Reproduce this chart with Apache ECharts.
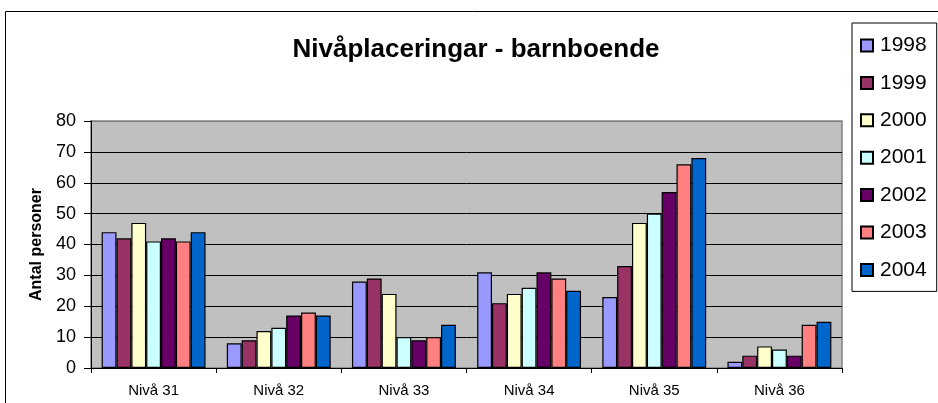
<!DOCTYPE html>
<html>
<head>
<meta charset="utf-8">
<script src="https://cdn.jsdelivr.net/npm/echarts@6/dist/echarts.min.js"></script>
<style>
html,body{margin:0;padding:0;background:#fff;}
#c{width:938px;height:403px;}
</style>
</head>
<body>
<div id="c"></div>
<script>
const categories = ['Nivå 31','Nivå 32','Nivå 33','Nivå 34','Nivå 35','Nivå 36'];
const years = ['1998','1999','2000','2001','2002','2003','2004'];
const colors = ['#9999FF','#993366','#FFFFCC','#CCFFFF','#660066','#FF8080','#0066CC'];
const v1998 = [44, 8, 28, 31, 23, 2];
const v1999 = [42, 9, 29, 21, 33, 4];
const v2000 = [47, 12, 24, 24, 47, 7];
const v2001 = [41, 13, 10, 26, 50, 6];
const v2002 = [42, 17, 9, 31, 57, 4];
const v2003 = [41, 18, 10, 29, 66, 14];
const v2004 = [44, 17, 14, 25, 68, 15];
const seriesValues = [v1998, v1999, v2000, v2001, v2002, v2003, v2004];
const yTicks = { min: 0, max: 80, interval: 10 };

const chart = echarts.init(document.getElementById('c'), null, {renderer: 'canvas'});
const font = '"Liberation Sans", Arial, sans-serif';

chart.setOption({
  animation: false,
  textStyle: { fontFamily: font },
  graphic: [{
    type: 'rect', z: -10, silent: true,
    shape: { x: 5.5, y: 11.5, width: 945, height: 420 },
    style: { fill: '#fff', stroke: '#000', lineWidth: 1 }
  }],
  title: {
    text: 'Nivåplaceringar - barnboende',
    left: 471, top: 32, textAlign: 'center',
    textStyle: { fontFamily: font, fontSize: 26, fontWeight: 'bold', color: '#000' }
  },
  legend: {
    orient: 'vertical',
    left: 852, top: 23,
    padding: [12, 10, 11, 8],
    itemGap: 16.4,
    itemWidth: 12, itemHeight: 12,
    icon: 'rect',
    borderColor: '#000', borderWidth: 1,
    backgroundColor: '#fff',
    textStyle: { fontFamily: font, fontSize: 21, color: '#000', padding: [0,0,0,2] },
    data: years
  },
  grid: {
    left: 91, right: 96, top: 121, bottom: 35,
    show: true, backgroundColor: '#C0C0C0', borderColor: '#808080', borderWidth: 1.5
  },
  xAxis: {
    type: 'category',
    data: categories,
    axisLine: { lineStyle: { color: '#000', width: 1 } },
    axisTick: { show: true, length: 5, alignWithLabel: false, lineStyle: { color: '#000' } },
    axisLabel: { fontFamily: font, fontSize: 15, color: '#000', margin: 15 },
    splitLine: { show: false }
  },
  yAxis: {
    type: 'value',
    min: yTicks.min, max: yTicks.max, interval: yTicks.interval,
    name: 'Antal personer',
    nameLocation: 'middle',
    nameGap: 43,
    nameTextStyle: { fontFamily: font, fontSize: 16, fontWeight: 'bold', color: '#000' },
    axisLine: { show: true, lineStyle: { color: '#000', width: 1 } },
    axisTick: { show: true, length: 7, lineStyle: { color: '#000' } },
    axisLabel: { fontFamily: font, fontSize: 18, color: '#000', margin: 15 },
    splitLine: { show: true, lineStyle: { color: ['#000','#000','#000','#000','#000','#000','#000','#000','#808080'], width: 1 } }
  },
  series: years.map((y, i) => ({
    name: y,
    type: 'bar',
    data: seriesValues[i],
    barGap: '0%',
    barCategoryGap: '17%',
    itemStyle: { color: colors[i], borderColor: '#000', borderWidth: 1.2 }
  }))
});
</script>
</body>
</html>
